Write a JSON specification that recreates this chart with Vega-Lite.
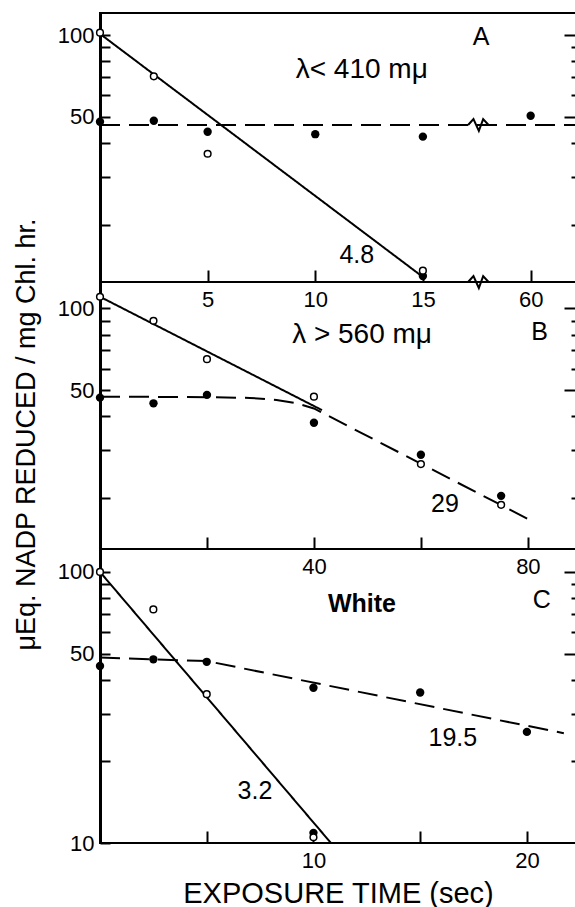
{
  "$schema": "https://vega.github.io/schema/vega-lite/v6.json",
  "padding": {"left": 10, "top": 12, "right": 0, "bottom": 0},
  "spacing": 0,
  "bounds": "flush",
  "config": {
    "font": "Liberation Sans",
    "view": {"stroke": "black", "strokeWidth": 2},
    "axis": {"labelFont": "Liberation Sans", "titleFont": "Liberation Sans", "labelColor": "black", "titleColor": "black", "tickColor": "black", "domainColor": "black", "tickWidth": 2, "grid": false, "labelFlush": false, "labelOverlap": false},
    "text": {"font": "Liberation Sans", "fontSize": 25, "color": "black"}
  },
  "datasets": {
    "aPts": [
      {"t": 0, "v": 102, "kind": "open"}, {"t": 2.5, "v": 70.5, "kind": "open"}, {"t": 5, "v": 36.6, "kind": "open"}, {"t": 15, "v": 13.6, "kind": "open"},
      {"t": 0, "v": 48, "kind": "filled"}, {"t": 2.5, "v": 48.4, "kind": "filled"}, {"t": 5, "v": 44.1, "kind": "filled"}, {"t": 10, "v": 43.2, "kind": "filled"}, {"t": 15, "v": 42.3, "kind": "filled"}, {"t": 60, "v": 50.5, "kind": "filled"}, {"t": 15, "v": 13.0, "kind": "filled"}
    ],
    "aLines": [
      {"t": 0, "v": 101, "line": "solid"}, {"t": 15, "v": 12.9, "line": "solid"},
      {"t": 0, "v": 46.7, "line": "dashed"}, {"t": 62.1, "v": 46.7, "line": "dashed"}
    ],
    "aBreaks": [
      {"t": 17.1, "v": 12.36, "brk": "axis"}, {"t": 17.35, "v": 13.0, "brk": "axis"}, {"t": 17.6, "v": 11.75, "brk": "axis"}, {"t": 57.8, "v": 13.0, "brk": "axis"}, {"t": 58.05, "v": 12.36, "brk": "axis"},
      {"t": 17.1, "v": 46.7, "brk": "line"}, {"t": 17.35, "v": 49.1, "brk": "line"}, {"t": 17.6, "v": 44.4, "brk": "line"}, {"t": 57.8, "v": 49.1, "brk": "line"}, {"t": 58.05, "v": 46.7, "brk": "line"}
    ],
    "aText": [
      {"t": 12.16, "v": 74.3, "label": "λ< 410 mμ"}, {"t": 20.66, "v": 98.3, "label": "A"}, {"t": 11.93, "v": 15.5, "label": "4.8"}
    ],
    "bPts": [
      {"t": 0, "v": 110.3, "kind": "open"}, {"t": 10, "v": 90, "kind": "open"}, {"t": 20, "v": 65, "kind": "open"}, {"t": 40, "v": 47.3, "kind": "open"}, {"t": 60, "v": 26.7, "kind": "open"}, {"t": 75, "v": 18.9, "kind": "open"},
      {"t": 0, "v": 46.9, "kind": "filled"}, {"t": 10, "v": 44.7, "kind": "filled"}, {"t": 20, "v": 48, "kind": "filled"}, {"t": 40, "v": 37.9, "kind": "filled"}, {"t": 60, "v": 28.9, "kind": "filled"}, {"t": 75, "v": 20.4, "kind": "filled"}
    ],
    "bLines": [
      {"t": 0, "v": 110.3, "line": "solid"}, {"t": 41.5, "v": 42.2, "line": "solid"},
      {"t": 0, "v": 47.3, "line": "dashed"}, {"t": 20, "v": 47.1, "line": "dashed"}, {"t": 28, "v": 46.8, "line": "dashed"}, {"t": 33, "v": 46.0, "line": "dashed"}, {"t": 37, "v": 44.6, "line": "dashed"}, {"t": 40, "v": 42.8, "line": "dashed"}, {"t": 80.2, "v": 16.7, "line": "dashed"}
    ],
    "bText": [
      {"t": 49, "v": 79.7, "label": "λ > 560 mμ"}, {"t": 82.2, "v": 82, "label": "B"}, {"t": 64.5, "v": 19.1, "label": "29"}
    ],
    "cPts": [
      {"t": 0, "v": 100, "kind": "open"}, {"t": 2.5, "v": 72.7, "kind": "open"}, {"t": 5, "v": 35.4, "kind": "open"}, {"t": 10, "v": 10.5, "kind": "open"},
      {"t": 0, "v": 45, "kind": "filled"}, {"t": 2.5, "v": 47.6, "kind": "filled"}, {"t": 5, "v": 46.6, "kind": "filled"}, {"t": 10, "v": 37.4, "kind": "filled"}, {"t": 15, "v": 35.9, "kind": "filled"}, {"t": 20, "v": 25.7, "kind": "filled"}, {"t": 10, "v": 10.9, "kind": "filled"}
    ],
    "cLines": [
      {"t": 0, "v": 100, "line": "solid"}, {"t": 10.82, "v": 10, "line": "solid"},
      {"t": 0, "v": 48.3, "line": "dashed"}, {"t": 5, "v": 46.9, "line": "dashed"}, {"t": 21.73, "v": 25.4, "line": "dashed"}
    ],
    "cText": [
      {"t": 12.27, "v": 76.4, "label": "White"}, {"t": 20.7, "v": 78.6, "label": "C"}, {"t": 7.26, "v": 15.6, "label": "3.2"}, {"t": 16.53, "v": 24.3, "label": "19.5"}
    ]
  },
  "vconcat": [
    {
      "width": 476, "height": 269,
      "encoding": {
        "x": {"field": "t", "type": "quantitative", "scale": {"domain": [0, 17.7, 57.7, 62.1], "range": [0, 381, 381, 476], "nice": false, "zero": false},
              "axis": {"values": [5, 10, 15, 60], "title": null, "tickSize": -12, "labelPadding": 19, "domain": false, "labelFontSize": 22}},
        "y": {"field": "v", "type": "quantitative", "scale": {"type": "log", "domain": [12.36, 120.5], "nice": false}, "axis": null}
      },
      "layer": [
        {"data": {"name": "aLines"}, "mark": {"type": "line", "color": "black", "strokeWidth": 2, "clip": false},
         "encoding": {
           "y": {"field": "v", "type": "quantitative", "scale": {"type": "log", "domain": [12.36, 120.5], "nice": false},
                 "axis": {"orient": "left", "values": [20, 30, 40, 50, 60, 70, 80, 90, 100], "labelExpr": "datum.value==100?'100':datum.value==50?'50':''", "tickSize": -10, "labelPadding": 16, "domainWidth": 3, "labelFontSize": 22, "title": null, "labelBaseline": "middle"}},
           "strokeDash": {"field": "line", "type": "nominal", "scale": {"domain": ["solid", "dashed"], "range": [[1, 0], [20, 9]]}, "legend": null}}},
        {"data": {"name": "aBreaks"}, "mark": {"type": "line", "color": "black", "strokeWidth": 2, "clip": false},
         "encoding": {"detail": {"field": "brk", "type": "nominal"}}},
        {"data": {"name": "aPts"}, "transform": [{"filter": "datum.kind == 'filled'"}], "mark": {"type": "point", "shape": "circle", "filled": true, "color": "black", "size": 70, "opacity": 1, "clip": false}},
        {"data": {"name": "aPts"}, "transform": [{"filter": "datum.kind == 'open'"}], "mark": {"type": "point", "shape": "circle", "filled": false, "fill": "white", "stroke": "black", "strokeWidth": 1.5, "size": 45, "opacity": 1, "clip": false}},
        {"data": {"name": "aText"}, "mark": {"type": "text", "align": "center", "baseline": "middle"},
         "encoding": {
           "y": {"field": "v", "type": "quantitative", "scale": {"type": "log", "domain": [12.36, 120.5], "nice": false},
                 "axis": {"orient": "right", "values": [20, 30, 40, 50, 60, 70, 80, 90, 100], "labels": false, "domain": false, "title": null, "tickSize": {"condition": {"test": "datum.value == 100 || datum.value == 50", "value": -12}, "value": -5}}},
           "text": {"field": "label", "type": "nominal"},
           "size": {"condition": {"test": "indexof(datum.label, 'λ') >= 0", "value": 28}, "value": 25}}}
      ],
      "resolve": {"axis": {"y": "independent"}}
    },
    {
      "width": 476, "height": 267,
      "encoding": {
        "x": {"field": "t", "type": "quantitative", "scale": {"domain": [0, 89], "nice": false, "zero": false},
              "axis": {"values": [20, 40, 60, 80], "labelExpr": "datum.value==40?'40':datum.value==80?'80':''", "title": null, "tickSize": -12, "labelPadding": 19, "domain": false, "labelFontSize": 22}},
        "y": {"field": "v", "type": "quantitative", "scale": {"type": "log", "domain": [13, 125], "nice": false}, "axis": null}
      },
      "layer": [
        {"data": {"name": "bLines"}, "mark": {"type": "line", "color": "black", "strokeWidth": 2, "clip": false},
         "encoding": {
           "y": {"field": "v", "type": "quantitative", "scale": {"type": "log", "domain": [13, 125], "nice": false},
                 "axis": {"orient": "left", "values": [20, 30, 40, 50, 60, 70, 80, 90, 100], "labelExpr": "datum.value==100?'100':datum.value==50?'50':''", "tickSize": -10, "labelPadding": 16, "domainWidth": 3, "labelFontSize": 22, "labelBaseline": "middle",
                          "title": "μEq. NADP REDUCED / mg Chl. hr.", "titleFontSize": 27, "titleFontWeight": "normal", "titleX": -60, "titleY": 152, "titleAngle": 270, "titleAlign": "center", "titleBaseline": "bottom"}},
           "strokeDash": {"field": "line", "type": "nominal", "scale": {"domain": ["solid", "dashed"], "range": [[1, 0], [20, 9]]}, "legend": null}}},
        {"data": {"name": "bPts"}, "transform": [{"filter": "datum.kind == 'filled'"}], "mark": {"type": "point", "shape": "circle", "filled": true, "color": "black", "size": 70, "opacity": 1, "clip": false}},
        {"data": {"name": "bPts"}, "transform": [{"filter": "datum.kind == 'open'"}], "mark": {"type": "point", "shape": "circle", "filled": false, "fill": "white", "stroke": "black", "strokeWidth": 1.5, "size": 45, "opacity": 1, "clip": false}},
        {"data": {"name": "bText"}, "mark": {"type": "text", "align": "center", "baseline": "middle"},
         "encoding": {
           "y": {"field": "v", "type": "quantitative", "scale": {"type": "log", "domain": [13, 125], "nice": false},
                 "axis": {"orient": "right", "values": [20, 30, 40, 50, 60, 70, 80, 90, 100], "labels": false, "domain": false, "title": null, "tickSize": {"condition": {"test": "datum.value == 100 || datum.value == 50", "value": -12}, "value": -5}}},
           "text": {"field": "label", "type": "nominal"},
           "size": {"condition": {"test": "indexof(datum.label, 'λ') >= 0", "value": 28}, "value": 25}}}
      ],
      "resolve": {"axis": {"y": "independent"}}
    },
    {
      "width": 476, "height": 294,
      "encoding": {
        "x": {"field": "t", "type": "quantitative", "scale": {"domain": [0, 22.3], "nice": false, "zero": false},
              "axis": {"values": [5, 10, 15, 20], "labelExpr": "datum.value==10?'10':datum.value==20?'20':''", "tickSize": -12, "labelPadding": 19, "domain": false, "labelFontSize": 22,
                       "title": "EXPOSURE TIME (sec)", "titleFontSize": 29, "titleFontWeight": "normal", "titleY": 59, "titleBaseline": "alphabetic"}},
        "y": {"field": "v", "type": "quantitative", "scale": {"type": "log", "domain": [10, 121.5], "nice": false}, "axis": null}
      },
      "layer": [
        {"data": {"name": "cLines"}, "mark": {"type": "line", "color": "black", "strokeWidth": 2, "clip": false},
         "encoding": {
           "y": {"field": "v", "type": "quantitative", "scale": {"type": "log", "domain": [10, 121.5], "nice": false},
                 "axis": {"orient": "left", "values": [10, 20, 30, 40, 50, 60, 70, 80, 90, 100], "labelExpr": "datum.value==100?'100':datum.value==50?'50':datum.value==10?'10':''", "tickSize": -10, "labelPadding": 16, "domainWidth": 3, "labelFontSize": 22, "title": null, "labelBaseline": "middle"}},
           "strokeDash": {"field": "line", "type": "nominal", "scale": {"domain": ["solid", "dashed"], "range": [[1, 0], [20, 9]]}, "legend": null}}},
        {"data": {"name": "cPts"}, "transform": [{"filter": "datum.kind == 'filled'"}], "mark": {"type": "point", "shape": "circle", "filled": true, "color": "black", "size": 70, "opacity": 1, "clip": false}},
        {"data": {"name": "cPts"}, "transform": [{"filter": "datum.kind == 'open'"}], "mark": {"type": "point", "shape": "circle", "filled": false, "fill": "white", "stroke": "black", "strokeWidth": 1.5, "size": 45, "opacity": 1, "clip": false}},
        {"data": {"name": "cText"}, "transform": [{"filter": "datum.label != 'White'"}], "mark": {"type": "text", "align": "center", "baseline": "middle"},
         "encoding": {
           "y": {"field": "v", "type": "quantitative", "scale": {"type": "log", "domain": [10, 121.5], "nice": false},
                 "axis": {"orient": "right", "values": [20, 30, 40, 50, 60, 70, 80, 90, 100], "labels": false, "domain": false, "title": null, "tickSize": {"condition": {"test": "datum.value == 100 || datum.value == 50", "value": -12}, "value": -5}}},
           "text": {"field": "label", "type": "nominal"}}},
        {"data": {"name": "cText"}, "transform": [{"filter": "datum.label == 'White'"}], "mark": {"type": "text", "align": "center", "baseline": "middle", "fontWeight": "bold"},
         "encoding": {"text": {"field": "label", "type": "nominal"}}}
      ],
      "resolve": {"axis": {"y": "independent"}}
    }
  ]
}
